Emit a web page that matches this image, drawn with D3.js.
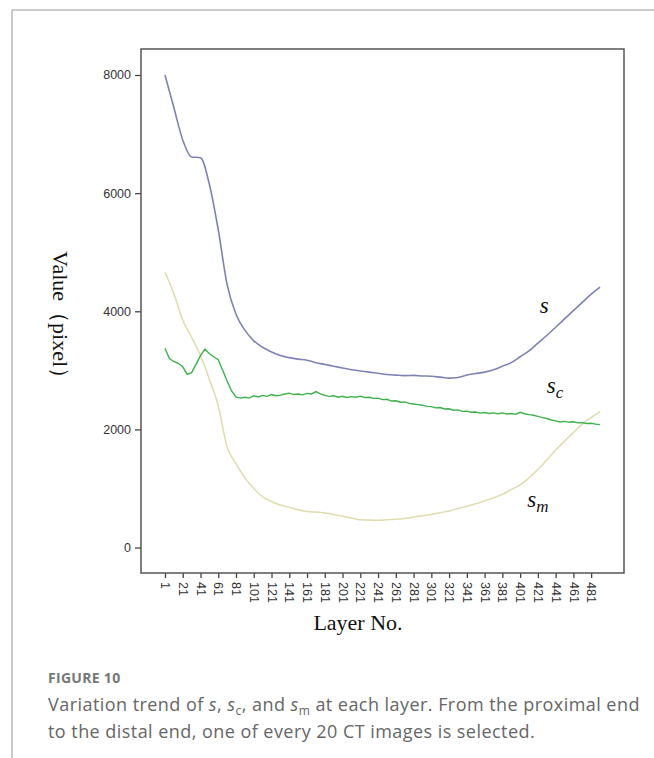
<!DOCTYPE html>
<html>
<head>
<meta charset="utf-8">
<script src="https://cdn.jsdelivr.net/npm/d3@7"></script>
<style>
  body { margin: 0; background: #fff; }
  svg { display: block; }
  .tick text { font-family: "Liberation Sans", Arial, sans-serif; font-size: 12.5px; fill: #333; }
  .tick line { stroke: #444; stroke-width: 1.3; }
</style>
</head>
<body>
<div id="chart"></div>
<script>
// layer numbers: s and s_m read every 10 layers, s_c every 5 layers
const layers = d3.range(1, 492, 10);
const layersFine = d3.range(1, 492, 5);
const xTickLabels = [1, 21, 41, 61, 81, 101, 121, 141, 161, 181, 201, 221, 241, 261, 281, 301, 321, 341, 361, 381, 401, 421, 441, 461, 481];
const yTickLabels = [0, 2000, 4000, 6000, 8000];

// s
const sValues = [8000, 7450, 6900, 6613, 6600, 6150, 5380, 4450, 3950, 3680,
  3500, 3390, 3310, 3250, 3215, 3190, 3172, 3130, 3100, 3070,
  3040, 3010, 2990, 2970, 2950, 2930, 2919, 2910, 2915, 2905,
  2900, 2885, 2868, 2880, 2920, 2945, 2970, 3010, 3070, 3130,
  3230, 3330, 3460, 3590, 3730, 3870, 4010, 4150, 4290, 4410];

// s_c (every 5 layers)
const scValues = [3375, 3200, 3150, 3120, 3060, 2930, 2960, 3100, 3250, 3360,
  3280, 3230, 3180, 3003, 2820, 2650, 2550, 2530, 2545, 2530,
  2570, 2550, 2575, 2560, 2590, 2570, 2580, 2600, 2614, 2590,
  2600, 2585, 2610, 2600, 2640, 2600, 2575, 2560, 2570, 2545,
  2560, 2540, 2555, 2545, 2563, 2540, 2545, 2525, 2530, 2505,
  2510, 2480, 2485, 2460, 2465, 2440, 2430, 2420, 2410, 2390,
  2385, 2365, 2370, 2345, 2350, 2325, 2330, 2305, 2310, 2290,
  2295, 2275, 2285, 2270, 2280, 2265, 2280, 2260, 2270, 2255,
  2290, 2265, 2250, 2240, 2220, 2200, 2185, 2160, 2145, 2125,
  2135, 2120, 2130, 2110, 2115, 2100, 2105, 2090, 2080];

// s_m
const smValues = [4660, 4300, 3849, 3560, 3250, 2850, 2400, 1700, 1420, 1180,
  1000, 860, 780, 720, 680, 640, 610, 600, 584, 560,
  530, 500, 470, 465, 460, 470, 480, 490, 516, 540,
  560, 590, 620, 660, 700, 740, 790, 840, 900, 980,
  1060, 1180, 1320, 1480, 1650, 1800, 1950, 2090, 2200, 2300];

const seriesColors = { s: "#7e82b6", sc: "#3cb24d", sm: "#dfdcad" };

const width = 654, height = 758;
const svg = d3.select("#chart").append("svg")
  .attr("width", width)
  .attr("height", height);

// page frame lines
svg.append("line").attr("x1", 12).attr("y1", 10).attr("x2", 12).attr("y2", height)
  .attr("stroke", "#999").attr("stroke-width", 1);
svg.append("line").attr("x1", 12).attr("y1", 10).attr("x2", width).attr("y2", 10)
  .attr("stroke", "#999").attr("stroke-width", 1);

const plot = { left: 141, right: 624, top: 49, bottom: 573 };

const x = d3.scaleLinear()
  .domain([-26, 518])
  .range([plot.left, plot.right]);

const y = d3.scaleLinear()
  .domain([-431, 8440])
  .range([plot.bottom, plot.top]);

// y axis
const yAxis = svg.append("g")
  .attr("transform", "translate(" + plot.left + ",0)")
  .call(d3.axisLeft(y).tickValues(yTickLabels).tickSize(6).tickPadding(4).tickFormat(d3.format("d")));
yAxis.select(".domain").remove();

// x axis, labels turned to read downwards
const xAxis = svg.append("g")
  .attr("transform", "translate(0," + plot.bottom + ")")
  .call(d3.axisBottom(x).tickValues(xTickLabels).tickSize(5).tickFormat(d3.format("d")));
xAxis.select(".domain").remove();
xAxis.selectAll("text")
  .attr("transform", "rotate(90)")
  .attr("x", 9)
  .attr("y", 0)
  .attr("dy", "0.35em")
  .style("text-anchor", "start");

// plot frame
svg.append("rect")
  .attr("x", plot.left)
  .attr("y", plot.top)
  .attr("width", plot.right - plot.left)
  .attr("height", plot.bottom - plot.top)
  .attr("fill", "none")
  .attr("stroke", "#555")
  .attr("stroke-width", 1.5);

// lines
const smoothLine = d3.line()
  .x((d, i) => x(layers[i]))
  .y(d => y(d))
  .curve(d3.curveMonotoneX);

const roughLine = d3.line()
  .x((d, i) => x(layersFine[i]))
  .y(d => y(d));

svg.append("path")
  .datum(smValues)
  .attr("fill", "none")
  .attr("stroke", seriesColors.sm)
  .attr("stroke-width", 1.5)
  .attr("d", smoothLine);

svg.append("path")
  .datum(scValues)
  .attr("fill", "none")
  .attr("stroke", seriesColors.sc)
  .attr("stroke-width", 1.4)
  .attr("d", roughLine);

svg.append("path")
  .datum(sValues)
  .attr("fill", "none")
  .attr("stroke", seriesColors.s)
  .attr("stroke-width", 1.6)
  .attr("d", smoothLine);

// series labels
const labelPos = [
  { layer: 423, value: 3971, sub: "" },
  { layer: 431, value: 2616, sub: "c" },
  { layer: 409, value: 686, sub: "m" }
];
labelPos.forEach(p => {
  const t = svg.append("text")
    .attr("x", x(p.layer))
    .attr("y", y(p.value))
    .style("font-family", "'Liberation Serif', 'Times New Roman', serif")
    .style("font-style", "italic")
    .style("font-size", "23px")
    .attr("fill", "#111");
  t.append("tspan").text("s");
  if (p.sub) {
    t.append("tspan").attr("dy", 5).style("font-size", "17px").text(p.sub);
  }
});

// axis titles
svg.append("text")
  .attr("transform", "translate(53," + ((plot.top + plot.bottom) / 2 + 9) + ") rotate(90)")
  .attr("text-anchor", "middle")
  .style("font-family", "'Liberation Serif', 'Times New Roman', serif")
  .style("font-size", "22px")
  .attr("fill", "#111")
  .text("Value（pixel）");

svg.append("text")
  .attr("x", 358)
  .attr("y", 630)
  .attr("text-anchor", "middle")
  .style("font-family", "'Liberation Serif', 'Times New Roman', serif")
  .style("font-size", "22px")
  .attr("fill", "#111")
  .text("Layer No.");

// caption
svg.append("text")
  .attr("x", 48)
  .attr("y", 683)
  .style("font-family", "'Open Sans', sans-serif")
  .style("font-size", "14px")
  .style("font-weight", "bold")
  .style("letter-spacing", "0.3px")
  .attr("fill", "#777")
  .text("FIGURE 10");

const cap1 = svg.append("text")
  .attr("x", 48)
  .attr("y", 711)
  .style("font-family", "'Open Sans', sans-serif")
  .style("font-size", "18px")
  .style("letter-spacing", "0.45px")
  .attr("fill", "#666");
cap1.append("tspan").text("Variation trend of ");
cap1.append("tspan").style("font-style", "italic").text("s");
cap1.append("tspan").text(", ");
cap1.append("tspan").style("font-style", "italic").text("s");
cap1.append("tspan").attr("dy", 4).style("font-size", "12px").text("c");
cap1.append("tspan").attr("dy", -4).text(", and ");
cap1.append("tspan").style("font-style", "italic").text("s");
cap1.append("tspan").attr("dy", 4).style("font-size", "12px").text("m");
cap1.append("tspan").attr("dy", -4).text(" at each layer. From the proximal end");

svg.append("text")
  .attr("x", 48)
  .attr("y", 738)
  .style("font-family", "'Open Sans', sans-serif")
  .style("font-size", "18px")
  .style("letter-spacing", "0.45px")
  .attr("fill", "#666")
  .text("to the distal end, one of every 20 CT images is selected.");
</script>
</body>
</html>
